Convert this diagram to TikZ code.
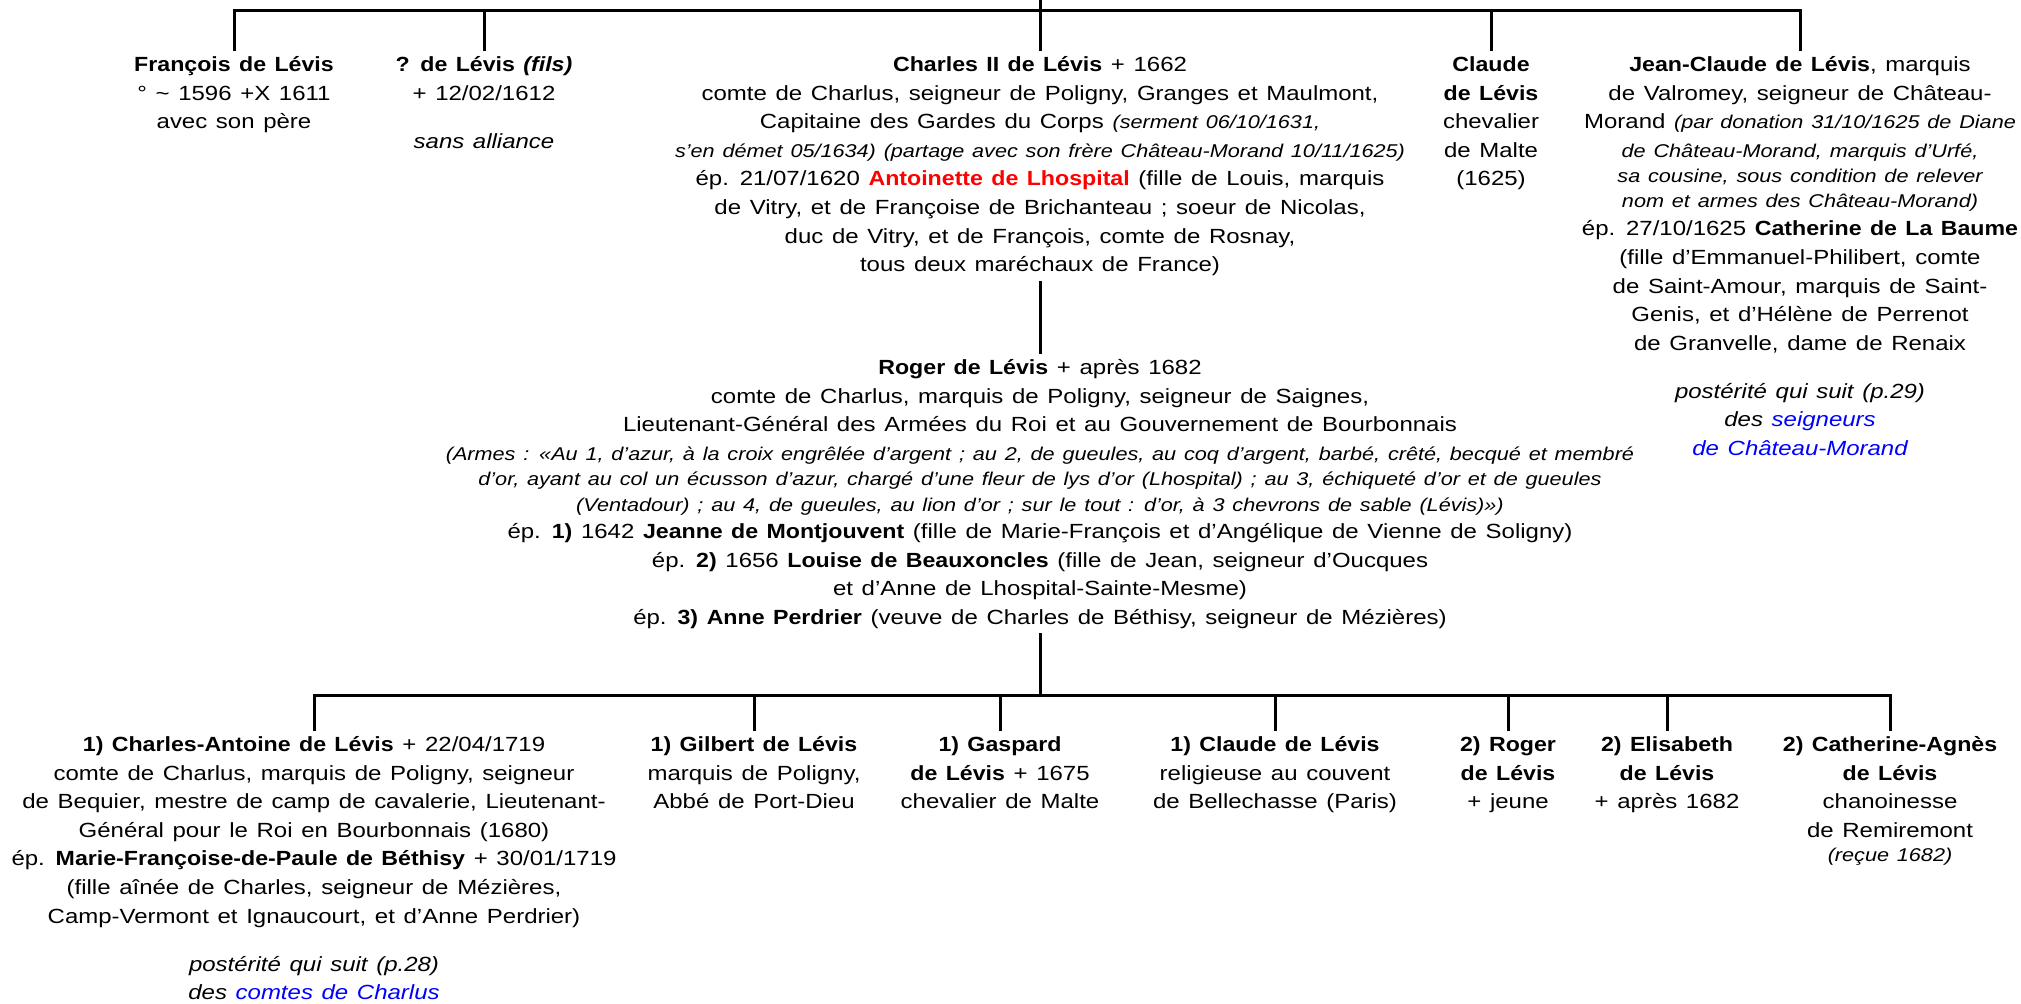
\documentclass[tikz,border=0pt]{standalone}
\usepackage{fontspec}
\setmainfont{Liberation Sans}[FakeStretch=1.17,WordSpace=1.3,
  BoldFeatures={FakeStretch=1.13},BoldItalicFeatures={FakeStretch=1.13}]
\newcommand\fsn{\fontsize{10.25}{14.3}\selectfont}
\newcommand\sit{\fontsize{9.25}{14.3}\selectfont\itshape}
\newcommand\blk[1]{\strut#1\strut}
\begin{document}
\begin{tikzpicture}[x=0.5pt,y=-0.5pt,
  link/.style={line width=1.5pt,line join=miter},
  person/.style={align=center,inner sep=0pt,anchor=north,font=\fsn}]
\useasboundingbox (0,0) rectangle (2021,1004);

% top generation
\node[person] (fr) at (234,51) {\blk{\textbf{François de Lévis}\\° \textasciitilde{} 1596 +X 1611\\avec son père}};
\node[person] (fi) at (484,51) {\blk{\textbf{? de Lévis \textit{(fils)}}\\+ 12/02/1612\\[9.7pt]\textit{sans alliance}}};
\node[person] (ch) at (1040,51) {\blk{\textbf{Charles II de Lévis} + 1662\\
comte de Charlus, seigneur de Poligny, Granges et Maulmont,\\
Capitaine des Gardes du Corps {\sit (serment 06/10/1631,}\\
{\sit s’en démet 05/1634) (partage avec son frère Château-Morand 10/11/1625)}\\
ép. 21/07/1620 \textcolor{red}{\textbf{Antoinette de Lhospital}} (fille de Louis, marquis\\
de Vitry, et de Françoise de Brichanteau ; soeur de Nicolas,\\
duc de Vitry, et de François, comte de Rosnay,\\
tous deux maréchaux de France)}};
\node[person] (cl) at (1491,51) {\blk{\textbf{Claude}\\\textbf{de Lévis}\\chevalier\\de Malte\\(1625)}};
\node[person] (jc) at (1800,51) {\blk{\textbf{Jean-Claude de Lévis}, marquis\\
de Valromey, seigneur de Château-\\
Morand {\sit (par donation 31/10/1625 de Diane}\\
{\sit de Château-Morand, marquis d’Urfé,}\\[-1.8pt]
{\sit sa cousine, sous condition de relever}\\[-1.8pt]
{\sit nom et armes des Château-Morand)}\\
ép. 27/10/1625 \textbf{Catherine de La Baume}\\
(fille d’Emmanuel-Philibert, comte\\
de Saint-Amour, marquis de Saint-\\
Genis, et d’Hélène de Perrenot\\
de Granvelle, dame de Renaix\\[9.7pt]
\textit{postérité qui suit (p.29)}\\
\textit{des \textcolor{blue}{seigneurs}}\\
\textit{\textcolor{blue}{de Château-Morand}}}};

% second generation
\node[person] (ro) at (1040,354) {\blk{\textbf{Roger de Lévis} + après 1682\\
comte de Charlus, marquis de Poligny, seigneur de Saignes,\\
Lieutenant-Général des Armées du Roi et au Gouvernement de Bourbonnais\\
{\sit (Armes : «Au 1, d’azur, à la croix engrêlée d’argent ; au 2, de gueules, au coq d’argent, barbé, crêté, becqué et membré}\\[-1.5pt]
{\sit d’or, ayant au col un écusson d’azur, chargé d’une fleur de lys d’or (Lhospital) ; au 3, échiqueté d’or et de gueules}\\[-1.5pt]
{\sit (Ventadour) ; au 4, de gueules, au lion d’or ; sur le tout : d’or, à 3 chevrons de sable (Lévis)»)}\\[-0.8pt]
ép. \textbf{1)} 1642 \textbf{Jeanne de Montjouvent} (fille de Marie-François et d’Angélique de Vienne de Soligny)\\
ép. \textbf{2)} 1656 \textbf{Louise de Beauxoncles} (fille de Jean, seigneur d’Oucques\\
et d’Anne de Lhospital-Sainte-Mesme)\\
ép. \textbf{3)} \textbf{Anne Perdrier} (veuve de Charles de Béthisy, seigneur de Mézières)}};

% third generation
\node[person] (ca) at (314,731) {\blk{\textbf{1) Charles-Antoine de Lévis} + 22/04/1719\\
comte de Charlus, marquis de Poligny, seigneur\\
de Bequier, mestre de camp de cavalerie, Lieutenant-\\
Général pour le Roi en Bourbonnais (1680)\\
ép. \textbf{Marie-Françoise-de-Paule de Béthisy} + 30/01/1719\\
(fille aînée de Charles, seigneur de Mézières,\\
Camp-Vermont et Ignaucourt, et d’Anne Perdrier)\\[9.7pt]
\textit{postérité qui suit (p.28)}\\
\textit{des \textcolor{blue}{comtes de Charlus}}}};
\node[person] (gi) at (754,731) {\blk{\textbf{1) Gilbert de Lévis}\\marquis de Poligny,\\Abbé de Port-Dieu}};
\node[person] (ga) at (1000,731) {\blk{\textbf{1) Gaspard}\\\textbf{de Lévis} + 1675\\chevalier de Malte}};
\node[person] (cd) at (1275,731) {\blk{\textbf{1) Claude de Lévis}\\religieuse au couvent\\de Bellechasse (Paris)}};
\node[person] (r2) at (1508,731) {\blk{\textbf{2) Roger}\\\textbf{de Lévis}\\+ jeune}};
\node[person] (el) at (1667,731) {\blk{\textbf{2) Elisabeth}\\\textbf{de Lévis}\\+ après 1682}};
\node[person] (cg) at (1890,731) {\blk{\textbf{2) Catherine-Agnès}\\\textbf{de Lévis}\\chanoinesse\\de Remiremont\\[-2.2pt]{\sit (reçue 1682)}}};

% connectors
\coordinate (t0) at (1040,0);
\coordinate (t1) at (1040,11);
\coordinate (b1) at (1040,695);
\draw[link] (t0) -- (t1);
\draw[link] (fr.north) -- (fr.north |- t1) -- (jc.north |- t1) -- (jc.north);
\draw[link] (fi.north) -- (fi.north |- t1);
\draw[link] (ch.north) -- (t1);
\draw[link] (cl.north) -- (cl.north |- t1);
\draw[link] (ch.south) -- (ro.north);
\draw[link] (ro.south) -- (b1);
\draw[link] (ca.north) -- (ca.north |- b1) -- (cg.north |- b1) -- (cg.north);
\draw[link] (gi.north) -- (gi.north |- b1);
\draw[link] (ga.north) -- (ga.north |- b1);
\draw[link] (cd.north) -- (cd.north |- b1);
\draw[link] (r2.north) -- (r2.north |- b1);
\draw[link] (el.north) -- (el.north |- b1);
\end{tikzpicture}
\end{document}
